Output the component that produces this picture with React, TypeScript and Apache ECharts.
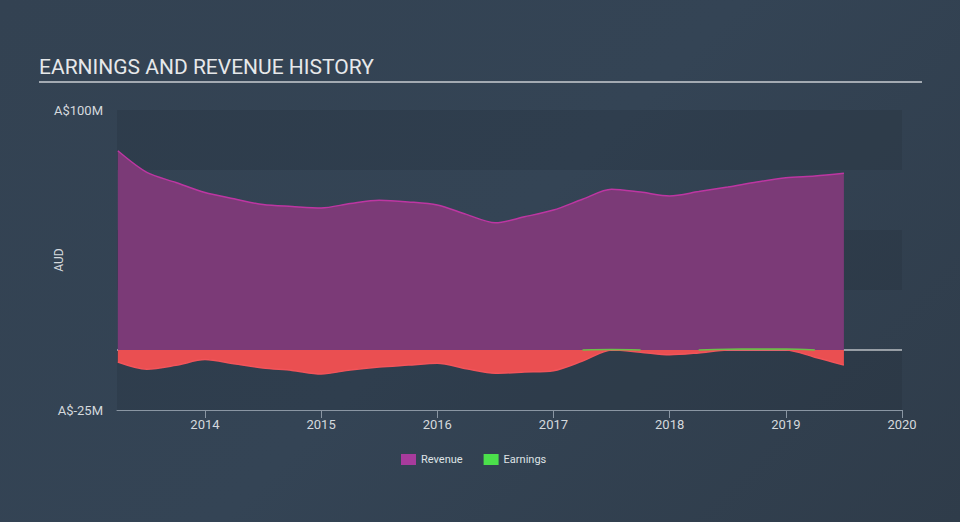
import React, { useEffect, useRef } from "react";
import * as echarts from "echarts";

// Quarter-end dates as decimal years
const periods = [
  2013.25, 2013.5, 2013.75, 2014.0, 2014.25, 2014.5, 2014.75, 2015.0, 2015.25, 2015.5,
  2015.75, 2016.0, 2016.25, 2016.5, 2016.75, 2017.0, 2017.25, 2017.5, 2017.75, 2018.0,
  2018.25, 2018.5, 2018.75, 2019.0, 2019.25, 2019.5,
];
// A$ millions
const revenue = [
  83.0, 74.0, 69.8, 65.6, 63.0, 60.6, 59.8, 59.2, 61.0, 62.4,
  61.7, 60.4, 56.5, 53.0, 55.5, 58.3, 62.8, 67.0, 65.8, 64.2,
  66.0, 67.9, 70.0, 71.8, 72.5, 73.6,
];
const earnings = [
  -5.0, -8.0, -6.4, -4.0, -5.7, -7.5, -8.5, -10.0, -8.3, -7.1,
  -6.3, -5.5, -7.8, -9.7, -9.2, -8.6, -4.6, 0.2, -0.9, -2.0,
  -1.2, 0.3, 0.4, 0.4, -3.0, -6.3,
];
const yearTicks = [2014, 2015, 2016, 2017, 2018, 2019, 2020];
const xRange = [2013.243, 2020];
const yLabels: Record<number, string> = { 100: "A$100M", [-25]: "A$-25M" };

const FONT = "Roboto, 'Noto Sans', sans-serif";

export default function App() {
  const ref = useRef<HTMLDivElement>(null);
  useEffect(() => {
    if (!ref.current) return;
    const chart = echarts.init(ref.current, null, { renderer: "svg" });
    const revData = periods.map((p, i) => [p, revenue[i]]);
    const negData = periods.map((p, i) => [p, Math.min(earnings[i], 0)]);
    const posData = periods.map((p, i) => {
      const near =
        earnings[i] > 0 ||
        (i > 0 && earnings[i - 1] > 0) ||
        (i < earnings.length - 1 && earnings[i + 1] > 0);
      return near ? [p, Math.max(earnings[i], 0)] : [p, null];
    });
    chart.setOption({
      animation: false,
      backgroundColor: "transparent",
      title: {
        text: "EARNINGS AND REVENUE HISTORY",
        left: 34,
        top: 51,
        textStyle: { color: "#e6e8ea", fontSize: 21, fontWeight: "normal", fontFamily: FONT },
      },
      graphic: [
        {
          type: "line",
          shape: { x1: 39, y1: 82, x2: 922, y2: 82 },
          style: { stroke: "#a3aab2", lineWidth: 2 },
        },
      ],
      legend: {
        data: ["Revenue", "Earnings"],
        left: 396,
        top: 449,
        icon: "rect",
        itemWidth: 15,
        itemHeight: 11,
        itemGap: 21,
        textStyle: { color: "#dfe3e6", fontSize: 11, fontFamily: FONT },
      },
      grid: { left: 117, right: 58, top: 110, bottom: 112, containLabel: false },
      xAxis: {
        type: "value",
        min: xRange[0],
        max: xRange[1],
        axisLine: { show: true, onZero: false, lineStyle: { color: "#8a96a3", width: 1 } },
        axisTick: {
          show: true,
          length: 8,
          customValues: yearTicks,
          lineStyle: { color: "#8a96a3" },
        },
        axisLabel: {
          customValues: yearTicks,
          formatter: (v: number) => String(v),
          color: "#d5d9dd",
          fontSize: 13,
          fontFamily: FONT,
          margin: 8,
        },
        splitLine: { show: false },
      },
      yAxis: {
        type: "value",
        min: -25,
        max: 100,
        interval: 25,
        name: "AUD",
        nameLocation: "middle",
        nameGap: 52,
        nameMoveOverlap: false,
        nameTextStyle: { color: "#d5d9dd", fontSize: 12, fontFamily: FONT },
        axisLine: { show: false },
        axisTick: { show: false },
        axisLabel: {
          formatter: (v: number) => yLabels[v] ?? "",
          color: "#d5d9dd",
          fontSize: 13,
          fontFamily: FONT,
          margin: 14,
        },
        splitLine: { show: false },
        splitArea: {
          show: true,
          areaStyle: { color: ["rgba(30,40,52,0.2)", "rgba(0,0,0,0)"] },
        },
      },
      series: [
        {
          name: "zero",
          type: "line",
          data: [
            [xRange[0], 0],
            [xRange[1], 0],
          ],
          z: 1,
          silent: true,
          showSymbol: false,
          lineStyle: { color: "#ffffff", width: 1.2 },
        },
        {
          name: "Revenue",
          type: "line",
          z: 2,
          data: revData,
          smooth: 0.3,
          showSymbol: false,
          color: "#a83b9c",
          lineStyle: { color: "#bd36a2", width: 1.5 },
          areaStyle: { color: "#7b3a77", opacity: 1 },
        },
        {
          name: "EarningsNeg",
          type: "line",
          z: 3,
          data: negData,
          smooth: 0.3,
          showSymbol: false,
          color: "#ec4f50",
          lineStyle: { color: "#f2545a", width: 1.5 },
          areaStyle: { color: "#ea4f51", opacity: 1 },
        },
        {
          name: "Earnings",
          type: "line",
          z: 4,
          data: posData,
          smooth: 0.3,
          showSymbol: false,
          color: "#4be04b",
          lineStyle: { color: "#6cbf4a", width: 1.5 },
          areaStyle: { color: "#6cbf4a", opacity: 0.8 },
        },
      ],
    });
    return () => chart.dispose();
  }, []);
  return (
    <div
      style={{
        position: "fixed",
        left: 0,
        top: 0,
        width: 960,
        height: 522,
        background: "linear-gradient(135deg, #334252 0%, #344455 50%, #2f3c4a 100%)",
      }}
    >
      <div ref={ref} style={{ width: 960, height: 522 }} />
    </div>
  );
}
